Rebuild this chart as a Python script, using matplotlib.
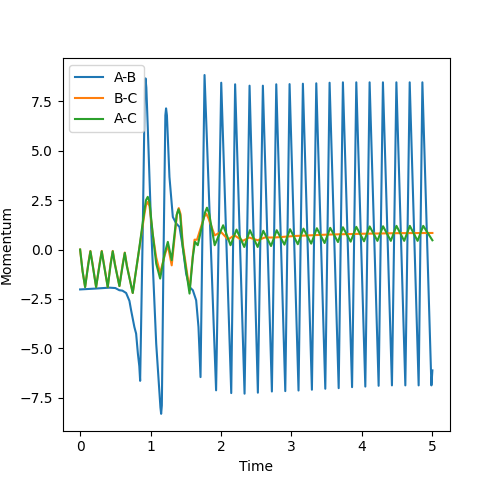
"""Momentum of the three atom pairs over time."""
import matplotlib

matplotlib.use("Agg")
import matplotlib.pyplot as plt  # noqa: E402

# A-B momentum
ab_time = [0.0, 0.2, 0.417, 0.5, 0.557, 0.6, 0.653, 0.7, 0.724, 0.77, 0.795, 0.82,
           0.84, 0.852, 0.89, 0.918, 0.928, 0.94, 0.96, 1.008, 1.08, 1.14, 1.15,
           1.16, 1.183, 1.21, 1.22, 1.232, 1.268, 1.316, 1.364, 1.41, 1.457, 1.505,
           1.553, 1.6, 1.647, 1.68, 1.709, 1.766,
           1.93, 2.003, 2.145, 2.2, 2.334, 2.405, 2.523, 2.594, 2.722, 2.784, 2.912,
           2.973, 3.1, 3.162, 3.29, 3.352, 3.48, 3.541, 3.67, 3.73, 3.86, 3.92,
           4.048, 4.109, 4.237, 4.298, 4.426, 4.489, 4.616, 4.678, 4.805, 4.858,
           4.986, 5.0]
ab_mom = [-2.02, -1.98, -1.93, -1.95, -2.06, -2.08, -2.2, -2.6, -3.08, -3.92, -4.26,
          -5.27, -5.9, -6.65, 1.15, 8.1, 8.67, 8.2, 6.22, 1.15, -4.77, -8.0, -8.32,
          -7.9, -0.54, 6.8, 7.15, 6.8, 3.68, 1.65, 1.32, 1.15, 0.13, -1.22,
          -1.9, -2.06, -2.57, -3.92, -6.46, 8.84,
          -7.13, 8.45, -7.27, 8.37, -7.3, 8.3, -7.25, 8.3, -7.19, 8.37, -7.17,
          8.38, -7.14, 8.4, -7.1, 8.42, -7.05, 8.45, -7.02, 8.47, -6.97, 8.47,
          -6.94, 8.47, -6.9, 8.47, -6.88, 8.47, -6.88, 8.47, -6.88, 8.47,
          -6.88, -6.12]

# B-C momentum
bc_time = [0.0, 0.035, 0.071, 0.116, 0.146, 0.176, 0.227, 0.277, 0.307, 0.337,
           0.392, 0.433, 0.463, 0.493, 0.558, 0.604, 0.634, 0.664, 0.747,
           0.842, 0.913, 0.935, 0.96, 0.985, 1.03, 1.08, 1.136, 1.2, 1.245, 1.3,
           1.375, 1.4, 1.425, 1.457, 1.553, 1.6, 1.624, 1.66, 1.76, 1.79, 1.82,
           1.91, 2.0, 2.1, 2.19, 2.31, 2.4, 2.52, 2.62, 2.76, 3.06, 3.53, 4.0,
           4.5, 5.0]
bc_mom = [0.0, -1.1, -1.9, -0.7, -0.07, -0.7, -1.9, -0.7, -0.07, -0.7,
          -1.9, -0.7, -0.07, -0.7, -1.85, -0.75, -0.15, -0.8, -2.2,
          0.1, 1.8, 2.25, 2.41, 2.2, 0.8, -0.4, -1.2, -0.3, 0.22, -0.8,
          1.8, 2.1, 1.8, 0.3, -2.05, -0.3, 0.5, 0.5, 1.65, 1.82, 1.6,
          0.72, 0.89, 0.51, 0.72, 0.44, 0.61, 0.47, 0.61, 0.61, 0.69, 0.76, 0.8,
          0.83, 0.84]

# A-C momentum
ac_time = [0.0, 0.035, 0.071, 0.116, 0.146, 0.176, 0.227, 0.277, 0.307, 0.337,
           0.392, 0.433, 0.463, 0.493, 0.558, 0.604, 0.634, 0.664, 0.747,
           0.842, 0.913, 0.935, 0.96, 0.985, 1.03, 1.08, 1.136, 1.2, 1.245, 1.3,
           1.37, 1.396, 1.42, 1.457, 1.553, 1.6, 1.63, 1.67, 1.77, 1.8, 1.83,
           1.91, 2.03, 2.135, 2.22, 2.33, 2.41, 2.52,
           2.6, 2.71, 2.79, 2.9, 2.98, 3.09, 3.17, 3.28, 3.36, 3.47, 3.55, 3.66,
           3.73, 3.84, 3.92, 4.03, 4.11, 4.22, 4.3, 4.41, 4.49, 4.6, 4.68, 4.79,
           4.87, 5.0]
ac_mom = [0.0, -1.1, -1.9, -0.75, -0.09, -0.75, -1.9, -0.75, -0.09, -0.75,
          -1.9, -0.75, -0.09, -0.75, -1.85, -0.8, -0.17, -0.85, -2.2,
          0.13, 1.99, 2.5, 2.67, 2.4, 0.81, -0.71, -1.47, -0.2, 0.39, -0.54,
          1.75, 2.04, 1.75, 0.13, -2.23, -0.37, 0.39, 0.22, 1.85, 2.12, 1.85,
          0.22, 1.23, 0.22, 1.01, 0.13, 0.98, 0.13,
          0.95, 0.18, 0.98, 0.25, 1.03, 0.27, 1.06, 0.3, 1.08, 0.33, 1.1, 0.38,
          1.13, 0.4, 1.15, 0.42, 1.17, 0.44, 1.18, 0.44, 1.2, 0.44, 1.2, 0.44,
          1.2, 0.47]

fig, ax = plt.subplots(figsize=(5, 4.84), dpi=100)
ax.plot(ab_time, ab_mom, label="A-B")
ax.plot(bc_time, bc_mom, label="B-C")
ax.plot(ac_time, ac_mom, label="A-C")
ax.set_xlabel("Time")
ax.set_ylabel("Momentum")
ax.legend(loc="upper left")
fig.savefig("out.png", dpi=100)
